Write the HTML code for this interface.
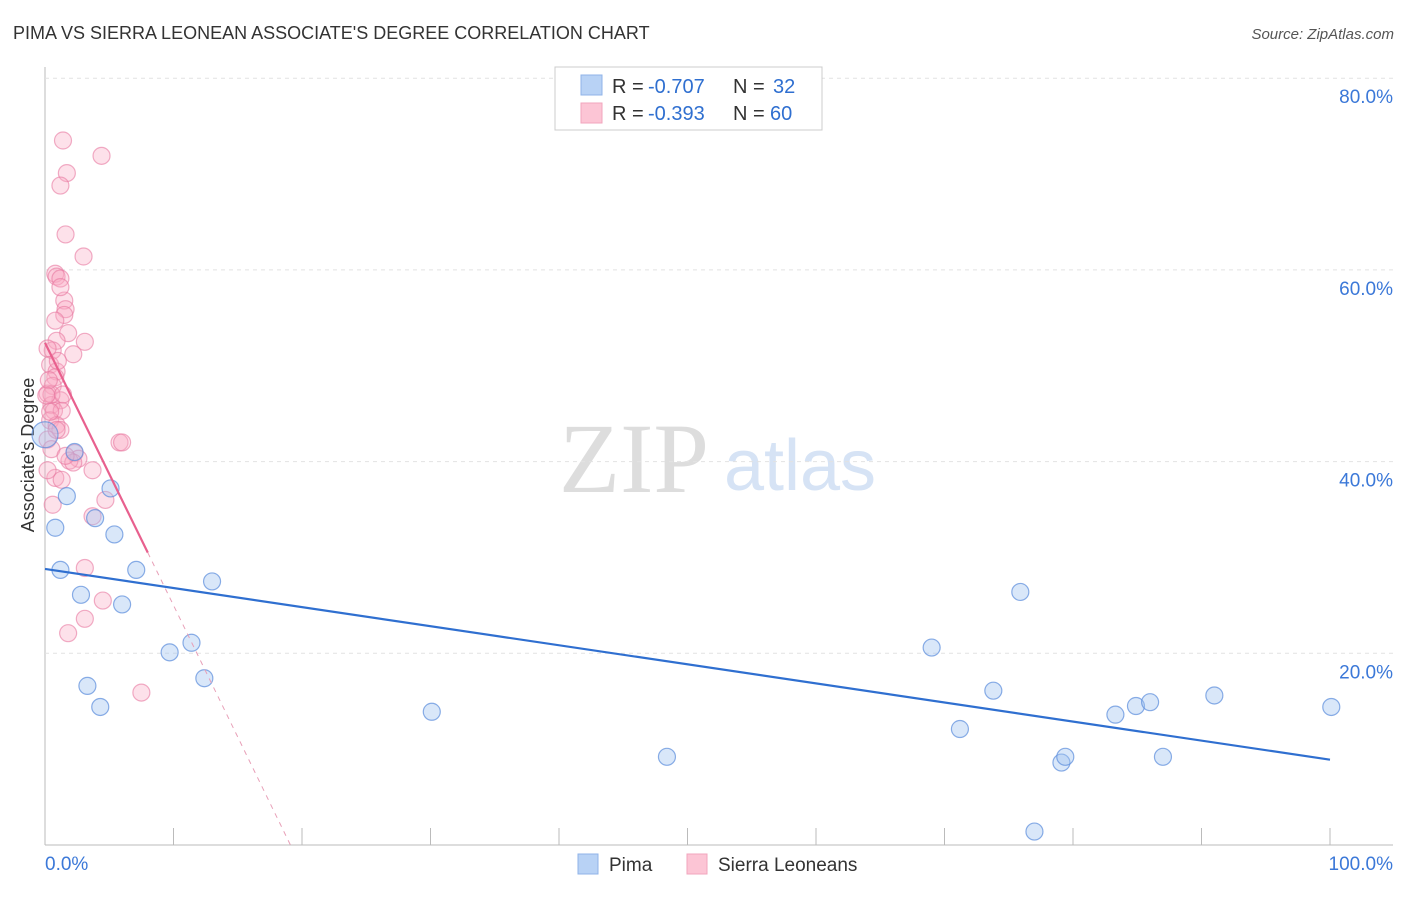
<!DOCTYPE html>
<html><head><meta charset="utf-8"><style>
body{margin:0;background:#fff;font-family:"Liberation Sans",sans-serif;}
</style></head><body>
<svg id="c" width="1406" height="892" style="font-family:'Liberation Sans',sans-serif">
<text x="13" y="39" font-size="18" fill="#333">PIMA VS SIERRA LEONEAN ASSOCIATE'S DEGREE CORRELATION CHART</text>
<text x="1394" y="39" font-size="15" fill="#555" font-style="italic" text-anchor="end">Source: ZipAtlas.com</text>
<text x="634" y="492" font-size="100" fill="#ddd" style="font-family:'Liberation Serif',serif" text-anchor="middle">ZIP</text>
<text x="800" y="490" font-size="72" fill="#d6e3f5" text-anchor="middle">atlas</text>
<text transform="translate(34,455) rotate(-90)" font-size="18" fill="#333" text-anchor="middle">Associate's Degree</text>
<g id="grid"></g><g id="pts"></g><g id="lines"></g>
<g>
<rect x="555" y="67" width="267" height="63" fill="#fff" stroke="#ccc"/>
<rect x="581" y="75" width="21" height="20" fill="#b8d2f5" stroke="#8fb3e8"/>
<rect x="581" y="103" width="21" height="20" fill="#fcc5d5" stroke="#f2a5bd"/>
<text x="612" y="93" font-size="20" fill="#333">R =</text>
<text x="648" y="93" font-size="20" fill="#2f6fd0">-0.707</text>
<text x="733" y="93" font-size="20" fill="#333">N =</text>
<text x="773" y="93" font-size="20" fill="#2f6fd0">32</text>
<text x="612" y="120" font-size="20" fill="#333">R =</text>
<text x="648" y="120" font-size="20" fill="#2f6fd0">-0.393</text>
<text x="733" y="120" font-size="20" fill="#333">N =</text>
<text x="770" y="120" font-size="20" fill="#2f6fd0">60</text>
</g>
<g>
<rect x="578" y="854" width="20" height="20" fill="#b8d2f5" stroke="#8fb3e8"/>
<text x="609" y="871" font-size="19" fill="#333">Pima</text>
<rect x="687" y="854" width="20" height="20" fill="#fcc5d5" stroke="#f2a5bd"/>
<text x="718" y="871" font-size="19" fill="#333">Sierra Leoneans</text>
</g>
</svg>
<script>
const yTicks=[20,40,60,80];
const xTickLabels=["0.0%","100.0%"];
const pimaX=[0,0.8,1.2,1.7,2.3,5.1,3.9,5.4,2.8,7.1,6.0,3.3,4.3,9.7,11.4,12.4,13.0,30.1,48.4,69.0,71.2,73.8,75.9,79.1,79.4,77.0,83.3,84.9,86.0,87.0,91.0,100.1];
const pimaY=[42.8,33.1,28.7,36.4,41.0,37.2,34.1,32.4,26.1,28.7,25.1,16.6,14.4,20.1,21.1,17.4,27.5,13.9,9.2,20.6,12.1,16.1,26.4,8.6,9.2,1.4,13.6,14.5,14.9,9.2,15.6,14.4];
const slX=[1.4,4.4,1.7,1.2,1.6,3.0,0.8,0.9,1.2,1.5,1.6,1.5,0.8,1.8,0.9,3.1,2.2,0.6,0.4,0.9,0.8,0.6,0.2,1.2,0.5,0.7,1.3,0.4,0.9,0.2,1.2,5.8,6.0,2.3,2.6,1.9,2.2,3.7,0.8,1.3,4.7,0.6,3.7,3.1,4.5,1.8,3.1,7.5,0.4,0.5,1.0,0.3,1.4,0.5,1.6,0.2,0.9,0.2,1.2,0.1];
const slY=[73.5,71.9,70.1,68.8,63.7,61.4,59.6,59.3,59.1,56.8,55.9,55.3,54.7,53.4,52.6,52.5,51.2,51.6,50.1,49.4,48.8,47.9,47.1,46.4,45.9,45.3,45.3,44.3,43.8,42.3,43.3,42.0,42.0,40.9,40.3,40.1,39.9,39.1,38.3,38.1,36.0,35.5,34.3,28.9,25.5,22.1,23.6,15.9,45.2,47.0,50.5,48.5,47.0,41.3,40.6,39.1,43.3,51.8,58.2,46.9];
const X=v=>45+v*12.85, Y=v=>845-v*9.585;
const ns="http://www.w3.org/2000/svg";
function mk(t,a,p){const e=document.createElementNS(ns,t);for(const k in a)e.setAttribute(k,a[k]);p.appendChild(e);return e;}
const g=document.getElementById('grid');
mk('line',{x1:45,y1:845,x2:1393,y2:845,stroke:'#bbb'},g);
mk('line',{x1:45,y1:67,x2:45,y2:845,stroke:'#bbb'},g);
for(let i=1;i<=10;i++){const l=mk('line',{x1:X(i*10),y1:828,x2:X(i*10),y2:845,stroke:'#bbb'},g);

}
yTicks.forEach(t=>{const l=mk('line',{x1:45,y1:Y(t),x2:1393,y2:Y(t),stroke:'#e2e2e2','stroke-dasharray':'4,4'},g);


const tx=mk('text',{x:1393,y:Y(t)+25,'font-size':19,fill:'#3b78d8','text-anchor':'end'},g);tx.textContent=t.toFixed(1)+'%';

});
const x0=mk('text',{x:45,y:870,'font-size':19,fill:'#3b78d8'},g);x0.textContent=xTickLabels[0];


const x1=mk('text',{x:1393,y:870,'font-size':19,fill:'#3b78d8','text-anchor':'end'},g);x1.textContent=xTickLabels[1];


const p=document.getElementById('pts');
slX.forEach((v,i)=>{const c=mk('circle',{cx:X(v),cy:Y(slY[i]),r:8.5,fill:'rgba(248,170,195,0.35)',stroke:'rgba(232,120,160,0.6)','stroke-width':1.2},p);

});
pimaX.forEach((v,i)=>{const c=mk('circle',{cx:X(v),cy:Y(pimaY[i]),r:i==0?13:8.5,fill:'rgba(160,195,240,0.4)',stroke:'rgba(90,140,220,0.7)','stroke-width':1.2},p);

});
const L=document.getElementById('lines');
const b=mk('line',{x1:X(0),y1:Y(28.8),x2:X(100),y2:Y(8.9),stroke:'#2f6fd0','stroke-width':2.2},L);


const s=mk('line',{x1:X(0),y1:Y(52.4),x2:X(8),y2:Y(30.5),stroke:'#e8608e','stroke-width':2.2},L);


const sd=mk('line',{x1:X(8),y1:Y(30.5),x2:X(19.1),y2:Y(0),stroke:'#e8a0b8','stroke-width':1,'stroke-dasharray':'5,5'},L);


</script>
</body></html>
